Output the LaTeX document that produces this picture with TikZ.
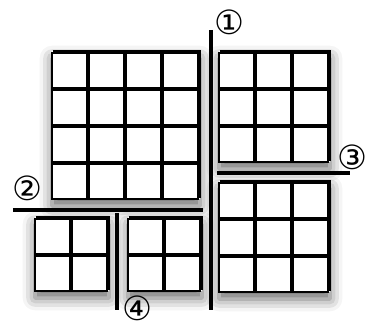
\documentclass[tikz,border=0pt]{standalone}
\usepackage{fontspec}
\newfontfamily\symfont{DejaVu Sans}
\usetikzlibrary{shadows.blur}

\tikzset{
  cubeline/.style={draw=black, line width=0.9pt, fill=white},
  divider/.style={draw=black, line width=2.2pt},
  numlabel/.style={font=\symfont\fontsize{19}{19}\selectfont, inner sep=0pt},
  blockshadow/.style={fill=white, blur shadow={shadow xshift=0pt, shadow yshift=-4pt, shadow blur radius=7pt, shadow opacity=60}},
  cube/.pic={
    % back face, then front face
    \draw[cubeline] (2,0) rectangle (37,35);
    \draw[cubeline] (0,2) rectangle (35,37);
  }
}

\begin{document}
\begin{tikzpicture}[x=0.02cm, y=-0.02cm]
\useasboundingbox (0,0) rectangle (366,328);

% ========== Blocks of cubes ==========
% corner x / corner y / columns / rows
\foreach \bx/\by/\nx/\ny in {52/51/4/4, 219/51/3/3, 219/181/3/3, 35/217/2/2, 128/217/2/2} {
    \fill[blockshadow] (\bx,\by) rectangle ({\bx+37*\nx},{\by+37*\ny});
    \foreach \i in {1,...,\nx} {
        \foreach \j in {1,...,\ny} {
            \pic at ({\bx+37*(\i-1)},{\by+37*(\j-1)}) {cube};
        }
    }
}

% ========== Cutting lines ==========
\draw[divider] (211,30) -- (211,310);
\draw[divider] (13,210) -- (203,210);
\draw[divider] (217,173) -- (350,173);
\draw[divider] (117,213) -- (117,310);

% ========== Cut numbers ==========
\node[numlabel] (cut1) at (229,22) {①};
\node[numlabel] (cut2) at (27,188) {②};
\node[numlabel] (cut3) at (352,157) {③};
\node[numlabel] (cut4) at (137,308) {④};

\end{tikzpicture}
\end{document}
